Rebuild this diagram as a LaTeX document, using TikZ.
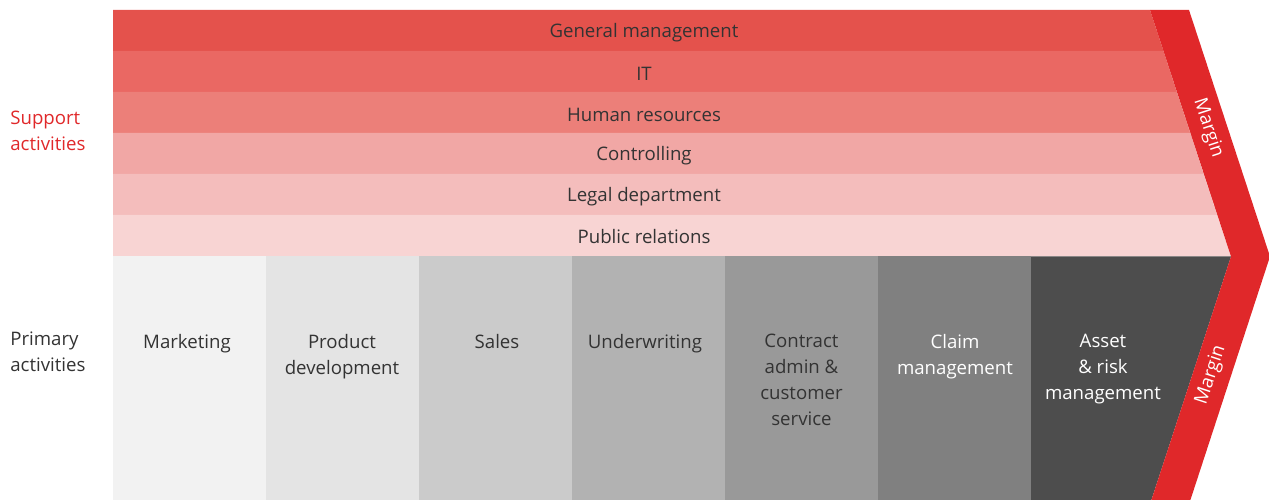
\documentclass[tikz,border=0pt]{standalone}
\usepackage{fontspec}
\setmainfont{Open Sans}
\usepackage{tikz}
\usetikzlibrary{positioning}

\definecolor{marginred}{HTML}{E0282A}
\definecolor{txtdark}{HTML}{333333}
\definecolor{bandA}{HTML}{E4524C}
\definecolor{bandB}{HTML}{EA6863}
\definecolor{bandC}{HTML}{EC7F79}
\definecolor{bandD}{HTML}{F1A7A5}
\definecolor{bandE}{HTML}{F4BDBC}
\definecolor{bandF}{HTML}{F8D4D3}
\definecolor{colA}{HTML}{F2F2F2}
\definecolor{colB}{HTML}{E4E4E4}
\definecolor{colC}{HTML}{CBCBCB}
\definecolor{colD}{HTML}{B2B2B2}
\definecolor{colE}{HTML}{999999}
\definecolor{colF}{HTML}{808080}
\definecolor{colG}{HTML}{4D4D4D}

\tikzset{
  bandtext/.style={text=txtdark},
  coltext/.style={anchor=north,align=center,text=txtdark},
  sidetext/.style={anchor=west,align=left,inner sep=0pt},
  margintext/.style={text=white,inner sep=0pt}
}

\begin{document}
\begin{tikzpicture}[x=0.02cm,y=0.02cm, every node/.style={font=\fontsize{10.6}{14.8}\selectfont}]
  \useasboundingbox (0,0) rectangle (1269,500);

  % support activities, one band each
  \fill[bandA] (113,490) -- (1150,490) -- (1163.4,449) -- (113,449) -- cycle;
  \fill[bandB] (113,449) -- (1163.4,449) -- (1176.8,408) -- (113,408) -- cycle;
  \fill[bandC] (113,408) -- (1176.8,408) -- (1190.2,367) -- (113,367) -- cycle;
  \fill[bandD] (113,367) -- (1190.2,367) -- (1203.6,326) -- (113,326) -- cycle;
  \fill[bandE] (113,326) -- (1203.6,326) -- (1217,285) -- (113,285) -- cycle;
  \fill[bandF] (113,285) -- (1217,285) -- (1231,243.5) -- (113,243.5) -- cycle;

  \node[bandtext] (genmgmt) at (644,467.5) {General management};
  \node[bandtext] (it)      at (644,426.5) {IT};
  \node[bandtext] (hr)      at (644,385.5) {Human resources};
  \node[bandtext] (ctrl)    at (644,344.5) {Controlling};
  \node[bandtext] (legal)   at (644,303.5) {Legal department};
  \node[bandtext] (pr)      at (644,263.5) {Public relations};

  % primary activities, one column each
  \fill[colA] (113,0) rectangle (266,243.5);
  \fill[colB] (266,0) rectangle (419,243.5);
  \fill[colC] (419,0) rectangle (572,243.5);
  \fill[colD] (572,0) rectangle (725,243.5);
  \fill[colE] (725,0) rectangle (878,243.5);
  \fill[colF] (878,0) rectangle (1031,243.5);
  \fill[colG] (1031,0) -- (1151.4,0) -- (1231,243.5) -- (1031,243.5) -- cycle;

  \node[coltext] (mkt)   at (187,172) {Marketing};
  \node[coltext] (prod)  at (342,172) {Product\\development};
  \node[coltext] (sales) at (497,172) {Sales};
  \node[coltext] (uw)    at (645,172) {Underwriting};
  \node[coltext] (admin) at (801.5,172) {Contract\\admin \&\\customer\\service};
  \node[coltext,text=white] (claim) at (955,172) {Claim\\management};
  \node[coltext,text=white] (asset) at (1103,172) {Asset\\\& risk\\management};

  % margin chevron
  \fill[marginred] (1150,490) -- (1189,490) -- (1270,243.5) -- (1190.4,0)
    -- (1151.4,0) -- (1231,243.5) -- cycle;
  \node[margintext,rotate=-71.9] (mtop) at (1208,372) {Margin};
  \node[margintext,rotate=71.9]  (mbot) at (1211,125) {Margin};

  % row labels
  \node[sidetext,text=marginred] (support) at (10,369) {Support\\activities};
  \node[sidetext,text=txtdark]   (primary) at (10,148) {Primary\\activities};
\end{tikzpicture}
\end{document}
